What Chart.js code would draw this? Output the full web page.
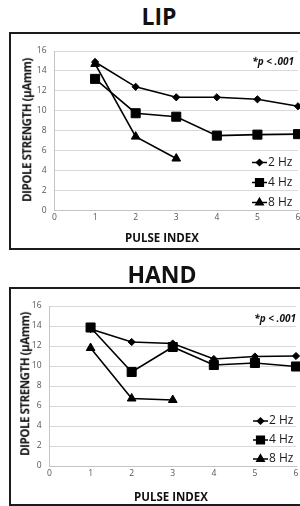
<!DOCTYPE html>
<html>
<head>
<meta charset="utf-8">
<script src="https://cdn.jsdelivr.net/npm/chart.js@4.4.0/dist/chart.umd.min.js"></script>
<style>
body { margin: 0; width: 300px; height: 506px; overflow: hidden; background: #fff; position: relative; font-family: "Open Sans", sans-serif; color: #111; }
.title { position: absolute; left: 0; font-weight: bold; font-size: 23px; line-height: 23px; text-align: center; }
.box { position: absolute; left: 9px; width: 330px; box-sizing: border-box; border: 2px solid #1c1c1c; }
canvas { position: absolute; left: 0; }
.ytitle, .xtitle { position: absolute; font-weight: bold; font-size: 11.5px; line-height: 11.5px; white-space: nowrap; }
.ytitle { transform: translate(-50%, -50%) rotate(-90deg); letter-spacing: -0.45px; }
.xtitle { transform: translate(-50%, -50%); }
.pval { position: absolute; font-weight: bold; font-style: italic; font-size: 10px; line-height: 10px; white-space: nowrap; transform: translate(-100%, -50%); }
</style>
</head>
<body>
<div class="title" style="top:4.5px;width:318px">LIP</div>
<div class="box" style="top:32px;height:218px"></div>
<canvas id="lip" width="320" height="216" style="top:33px"></canvas>
<div class="ytitle" style="left:27px;top:130px">DIPOLE STRENGTH (µAmm)</div>
<div class="xtitle" style="left:162px;top:238px">PULSE INDEX</div>
<div class="pval" style="left:294px;top:61px">*p &lt; .001</div>

<div class="title" style="top:263px;width:324px">HAND</div>
<div class="box" style="top:287px;height:219px"></div>
<canvas id="hand" width="320" height="218" style="top:288px"></canvas>
<div class="ytitle" style="left:25px;top:384px">DIPOLE STRENGTH (µAmm)</div>
<div class="xtitle" style="left:171px;top:497px">PULSE INDEX</div>
<div class="pval" style="left:296px;top:318px">*p &lt; .001</div>

<script>
// pulse index on the x axis
const pulseIndex = [1, 2, 3, 4, 5, 6];
const xTicks = [0, 1, 2, 3, 4, 5, 6];
const yTicks = [0, 2, 4, 6, 8, 10, 12, 14, 16];
const seriesNames = ['2 Hz', '4 Hz', '8 Hz'];

// LIP dipole strength (µAmm)
const lip2Hz = [14.9, 12.4, 11.35, 11.35, 11.15, 10.45];
const lip4Hz = [13.2, 9.75, 9.4, 7.5, 7.6, 7.65];
const lip8Hz = [14.7, 7.4, 5.2];

// HAND dipole strength (µAmm)
const hand2Hz = [13.7, 12.4, 12.25, 10.7, 10.95, 11.0];
const hand4Hz = [13.85, 9.4, 11.9, 10.1, 10.3, 9.95];
const hand8Hz = [11.8, 6.75, 6.6];

const markers = [
    { pointStyle: 'rectRot', radius: 3.6 },
    { pointStyle: 'rect', radius: 6.4 },
    { pointStyle: 'triangle', radius: 5 }
];

function toPoints(values) {
    return values.map((v, i) => ({ x: pulseIndex[i], y: v }));
}

// legend drawn inside the plot, line with marker in the middle
const innerLegend = {
    id: 'innerLegend',
    afterDatasetsDraw(chart, args, opts) {
        const ctx = chart.ctx;
        ctx.save();
        chart.data.datasets.forEach((ds, i) => {
            const y = opts.ys[i];
            ctx.strokeStyle = '#000';
            ctx.fillStyle = '#000';
            ctx.lineWidth = 1.5;
            ctx.beginPath();
            ctx.moveTo(opts.x, y);
            ctx.lineTo(opts.x + opts.len, y);
            ctx.stroke();
            Chart.helpers.drawPoint(ctx, {
                pointStyle: markers[i].pointStyle,
                radius: markers[i].radius * 0.85,
                rotation: 0,
                borderWidth: 1
            }, opts.x + opts.len / 2, y);
            ctx.fillStyle = '#1a1a1a';
            ctx.font = '12px "Open Sans"';
            ctx.textBaseline = 'middle';
            ctx.textAlign = 'left';
            ctx.fillText(ds.label, opts.x + opts.len + 1, y);
        });
        ctx.restore();
    }
};

function makeChart(id, series, layout) {
    const datasets = series.map((values, i) => ({
        label: seriesNames[i],
        data: toPoints(values),
        borderColor: '#000',
        backgroundColor: '#000',
        borderWidth: 1.6,
        pointStyle: markers[i].pointStyle,
        pointRadius: markers[i].radius,
        pointBackgroundColor: '#000',
        pointBorderColor: '#000',
        pointBorderWidth: 1,
        tension: 0,
        clip: false
    }));

    return new Chart(document.getElementById(id), {
        type: 'line',
        data: { datasets: datasets },
        options: {
            responsive: false,
            animation: false,
            events: [],
            layout: { padding: { top: layout.top, right: layout.right, left: 0, bottom: 0 } },
            plugins: {
                legend: { display: false },
                tooltip: { enabled: false },
                innerLegend: layout.legend
            },
            scales: {
                x: {
                    type: 'linear',
                    min: 0,
                    max: 6,
                    afterBuildTicks: s => { s.ticks = xTicks.map(v => ({ value: v })); },
                    afterFit: s => { s.height = layout.xHeight; },
                    grid: { display: false, drawTicks: false },
                    border: { display: true, color: '#c4c4c4', width: 1 },
                    ticks: { padding: 2, color: '#555', font: { family: 'Open Sans', size: 8.5 } }
                },
                y: {
                    min: 0,
                    max: 16,
                    afterBuildTicks: s => { s.ticks = yTicks.map(v => ({ value: v })); },
                    afterFit: s => { s.width = layout.yWidth; },
                    grid: { color: '#d9d9d9', lineWidth: 1, drawTicks: false },
                    border: { display: true, color: '#c4c4c4', width: 1 },
                    ticks: { padding: 8, color: '#555', font: { family: 'Open Sans', size: 8.5 } }
                }
            }
        },
        plugins: [innerLegend]
    });
}

makeChart('lip', [lip2Hz, lip4Hz, lip8Hz], {
    top: 18, right: 22, xHeight: 38.7, yWidth: 54.5,
    legend: { x: 252, len: 15, ys: [129.5, 149.5, 169.5] }
});

makeChart('hand', [hand2Hz, hand4Hz, hand8Hz], {
    top: 18, right: 24, xHeight: 40, yWidth: 49.5,
    legend: { x: 253, len: 15, ys: [133, 152, 171] }
});
</script>
</body>
</html>
